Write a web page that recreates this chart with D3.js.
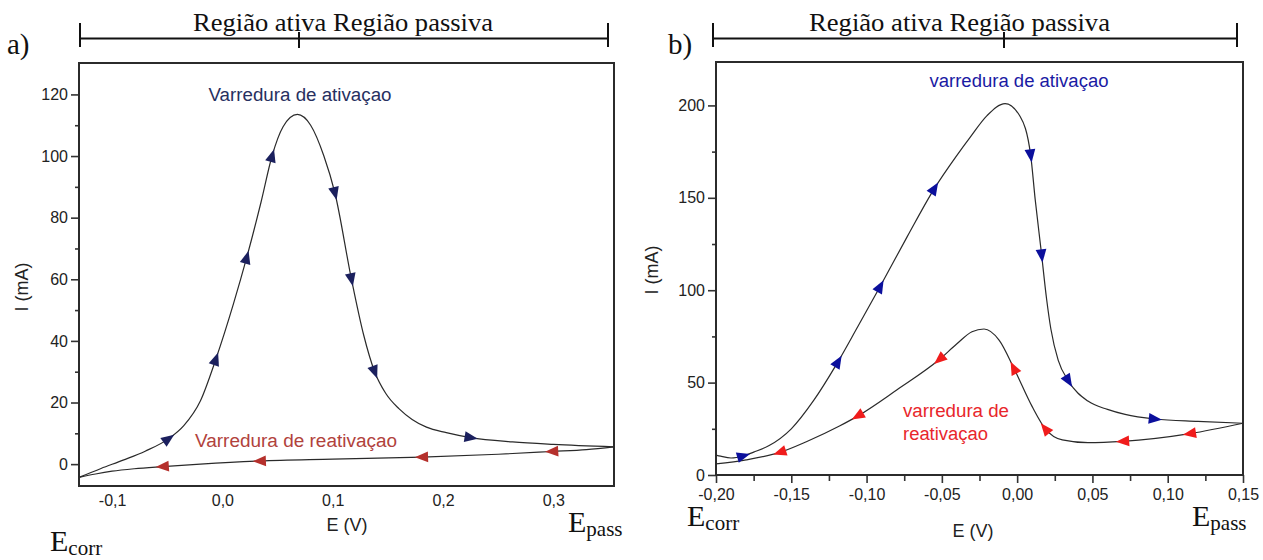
<!DOCTYPE html>
<html>
<head>
<meta charset="utf-8">
<script src="https://cdn.jsdelivr.net/npm/d3@7"></script>
<style>
body { margin: 0; background: #fff; }
svg { display: block; }
.sans { font-family: "Liberation Sans", Arial, sans-serif; }
.serif { font-family: "Liberation Serif", "Times New Roman", serif; }
</style>
</head>
<body>
<svg id="chart" width="1263" height="560"></svg>
<script>
// ---- panel a) data (E in V, I in mA) ----
const aForwardE = [-0.130, -0.110, -0.090, -0.070, -0.049, -0.035, -0.020, -0.006, 0.010, 0.022, 0.035, 0.045, 0.055, 0.068, 0.080, 0.092, 0.102, 0.117, 0.128, 0.138, 0.148, 0.160, 0.172, 0.185, 0.203, 0.225, 0.263, 0.300, 0.355];
const aForwardI = [-4.3, -1.4, 1.3, 4.2, 8.2, 12.5, 20.5, 34, 52, 67, 85, 100, 109.5, 113.5, 110, 100, 88, 60, 42, 30, 23, 18, 14.5, 12, 10.2, 8.6, 7.2, 6.4, 5.6];
const aReverseE = [-0.130, -0.115, -0.100, -0.080, -0.054, -0.020, 0.034, 0.100, 0.181, 0.250, 0.299, 0.330, 0.355];
const aReverseI = [-4.3, -3.2, -2.3, -1.5, -0.8, 0.0, 1.0, 1.6, 2.3, 3.2, 4.1, 4.7, 5.6];
const aForwardArrows = [-0.049, -0.006, 0.022, 0.045, 0.102, 0.117, 0.138, 0.225];
const aReverseArrows = [0.299, 0.181, 0.034, -0.054];
const aYTicks = [0, 20, 40, 60, 80, 100, 120];
const aYMinor = [10, 30, 50, 70, 90, 110];
const aXTicks = [-0.1, 0.0, 0.1, 0.2, 0.3];
const aXTickLabels = ["-0,1", "0,0", "0,1", "0,2", "0,3"];

// ---- panel b) data ----
const bForwardE = [-0.200, -0.197, -0.190, -0.182, -0.175, -0.165, -0.150, -0.135, -0.1199, -0.1057, -0.091, -0.073, -0.055, -0.040, -0.031, -0.020, -0.008, 0.002, 0.009, 0.012, 0.016, 0.0196, 0.0224, 0.0273, 0.034, 0.047, 0.060, 0.0717, 0.0914, 0.120, 0.150];
const bForwardI = [10.8, 10.2, 9.2, 10.3, 12.4, 15.8, 25, 40.5, 60, 80.5, 102, 129, 155, 173, 183, 194.5, 201, 194, 173, 149, 121, 95, 79, 62, 51, 40, 35.5, 32.8, 30.3, 29, 28];
const bReverseE = [-0.200, -0.180, -0.157, -0.140, -0.118, -0.1057, -0.080, -0.0515, -0.040, -0.030, -0.022, -0.012, -0.002, 0.010, 0.0187, 0.030, 0.047, 0.070, 0.1148, 0.150];
const bReverseI = [6.0, 8.2, 12.4, 18, 26.5, 32, 46, 62.6, 71, 77.5, 79, 73, 57.5, 37, 25, 19, 17.5, 18.2, 22.4, 28];
const bForwardArrows = [-0.182, -0.119, -0.091, -0.055, 0.009, 0.0163, 0.034, 0.0914];
const bReverseArrows = [0.1148, 0.0704, 0.0187, -0.0022, -0.0515, -0.1057, -0.1574];
const bYTicks = [0, 50, 100, 150, 200];
const bYMinor = [25, 75, 125, 175];
const bXTicks = [-0.20, -0.15, -0.10, -0.05, 0.00, 0.05, 0.10, 0.15];
const bXMinor = [-0.175, -0.125, -0.075, -0.025, 0.025, 0.075, 0.125];
const bXTickLabels = ["-0,20", "-0,15", "-0,10", "-0,05", "0,00", "0,05", "0,10", "0,15"];

const headerText = "Região ativa Região passiva";

const svg = d3.select("#chart");

function zip(es, is) { return es.map((e, i) => ({ E: e, I: is[i] })); }

// place a triangle on the drawn path at a given E, pointing along the sweep
function addArrows(g, pathNode, x, values, dir, color, size)
{
	const total = pathNode.getTotalLength();
	values.forEach(function(e)
	{
		const tx = x(e);
		let lo = 0, hi = total;
		for (let k = 0; k < 40; k++) {
			const mid = (lo + hi) / 2;
			if (pathNode.getPointAtLength(mid).x < tx) lo = mid; else hi = mid;
		}
		const l = (lo + hi) / 2;
		const p = pathNode.getPointAtLength(l);
		const p0 = pathNode.getPointAtLength(Math.max(0, l - 2));
		const p1 = pathNode.getPointAtLength(Math.min(total, l + 2));
		let ang = Math.atan2(p1.y - p0.y, p1.x - p0.x) * 180 / Math.PI;
		if (dir < 0) ang += 180;
		const s = size;
		g.append("path")
			.attr("d", "M" + (0.6 * s) + ",0L" + (-0.5 * s) + "," + (-0.45 * s) + "L" + (-0.5 * s) + "," + (0.45 * s) + "Z")
			.attr("fill", color)
			.attr("transform", "translate(" + p.x + "," + p.y + ") rotate(" + ang + ")");
	});
}

function drawPanel(cfg)
{
	const g = svg.append("g");
	const x = d3.scaleLinear().domain(cfg.xDomain).range([cfg.left, cfg.right]);
	const y = d3.scaleLinear().domain(cfg.yDomain).range([cfg.bottom, cfg.top]);

	// header bracket
	g.append("text").attr("class", "serif")
		.attr("x", cfg.headerX).attr("y", 31)
		.attr("font-size", 25).attr("fill", "#111")
		.attr("textLength", cfg.headerLen).attr("lengthAdjust", "spacingAndGlyphs")
		.text(headerText);
	g.append("line").attr("x1", cfg.brL).attr("x2", cfg.brR).attr("y1", 38.5).attr("y2", 38.5)
		.attr("stroke", "#111").attr("stroke-width", 2);
	[cfg.brL, cfg.brR].forEach(function(bx) {
		g.append("line").attr("x1", bx).attr("x2", bx).attr("y1", 23).attr("y2", 47)
			.attr("stroke", "#111").attr("stroke-width", 2);
	});
	g.append("line").attr("x1", cfg.brM).attr("x2", cfg.brM).attr("y1", 32).attr("y2", 48)
		.attr("stroke", "#111").attr("stroke-width", 2);
	g.append("text").attr("class", "serif")
		.attr("x", cfg.tagX).attr("y", 54)
		.attr("font-size", 29).attr("fill", "#111")
		.text(cfg.tag);

	// y axis
	const ya = g.append("g").attr("class", "sans")
		.attr("transform", "translate(" + cfg.left + ",0)")
		.call(d3.axisLeft(y).tickValues(cfg.yTicks).tickSize(8).tickPadding(3).tickFormat(d3.format("d")));
	ya.select(".domain").remove();
	ya.selectAll("line").attr("stroke", "#333").attr("stroke-width", 1.6);
	ya.selectAll("text").attr("font-size", 16).attr("fill", "#222").attr("font-family", null);
	const ym = g.append("g")
		.attr("transform", "translate(" + cfg.left + ",0)")
		.call(d3.axisLeft(y).tickValues(cfg.yMinor).tickSize(4).tickFormat(""));
	ym.select(".domain").remove();
	ym.selectAll("line").attr("stroke", "#333").attr("stroke-width", 1.6);

	// x axis
	const xa = g.append("g").attr("class", "sans")
		.attr("transform", "translate(0," + cfg.bottom + ")")
		.call(d3.axisBottom(x).tickValues(cfg.xTicks).tickSize(cfg.xTickSize).tickPadding(cfg.xPad)
			.tickFormat((d, i) => cfg.xLabels[i]));
	xa.select(".domain").remove();
	xa.selectAll("line").attr("stroke", "#333").attr("stroke-width", 1.6);
	xa.selectAll("text").attr("font-size", 16).attr("fill", "#222").attr("font-family", null);
	if (cfg.xMinor) {
		const xm = g.append("g")
			.attr("transform", "translate(0," + cfg.bottom + ")")
			.call(d3.axisBottom(x).tickValues(cfg.xMinor).tickSize(6).tickFormat(""));
		xm.select(".domain").remove();
		xm.selectAll("line").attr("stroke", "#333").attr("stroke-width", 1.6);
	}

	// frame
	g.append("rect")
		.attr("x", cfg.left).attr("y", cfg.top)
		.attr("width", cfg.right - cfg.left).attr("height", cfg.bottom - cfg.top)
		.attr("fill", "none").attr("stroke", "#2b2b2b").attr("stroke-width", 2);

	// axis titles
	g.append("text").attr("class", "sans")
		.attr("x", cfg.xTitleX).attr("y", cfg.xTitleY)
		.attr("text-anchor", "middle").attr("font-size", 18).attr("fill", "#222")
		.text("E (V)");
	g.append("text").attr("class", "sans")
		.attr("transform", "translate(" + cfg.yTitleX + "," + cfg.yTitleY + ") rotate(-90)")
		.attr("text-anchor", "middle").attr("dy", "0.35em").attr("font-size", 18).attr("fill", "#222")
		.text("I (mA)");

	// curves
	const line = d3.line().x(d => x(d.E)).y(d => y(d.I)).curve(d3.curveMonotoneX);
	const fwd = g.append("path").datum(cfg.forward)
		.attr("d", line).attr("fill", "none").attr("stroke", "#2a2a2a").attr("stroke-width", 1.2);
	const rev = g.append("path").datum(cfg.reverse)
		.attr("d", line).attr("fill", "none").attr("stroke", "#2a2a2a").attr("stroke-width", 1.2);
	addArrows(g, fwd.node(), x, cfg.forwardArrows, 1, cfg.fwdColor, 12);
	addArrows(g, rev.node(), x, cfg.reverseArrows, -1, cfg.revColor, 12);

	// E subscripts
	cfg.eLabels.forEach(function(l) {
		const t = g.append("text").attr("class", "serif")
			.attr("x", l.x).attr("y", l.y).attr("font-size", 30).attr("fill", "#111");
		t.append("tspan").text("E");
		t.append("tspan").attr("font-size", 21).attr("dy", 4).text(l.sub);
	});

	// sweep annotations
	cfg.notes.forEach(function(n) {
		g.append("text").attr("class", "sans")
			.attr("x", n.x).attr("y", n.y).attr("text-anchor", n.anchor)
			.attr("font-size", 18).attr("fill", n.color)
			.attr("textLength", n.len).attr("lengthAdjust", "spacingAndGlyphs")
			.text(n.text);
	});
}

drawPanel({
	tag: "a)", tagX: 7,
	headerX: 193, headerLen: 300, brL: 80, brR: 608, brM: 299,
	left: 79, right: 614, top: 63, bottom: 486,
	xDomain: [-0.13, 0.355], yDomain: [-7.1, 130.2],
	yTicks: aYTicks, yMinor: aYMinor,
	xTicks: aXTicks, xLabels: aXTickLabels, xTickSize: 0, xPad: 9, xMinor: null,
	xTitleX: 347, xTitleY: 531, yTitleX: 22, yTitleY: 287,
	forward: zip(aForwardE, aForwardI), reverse: zip(aReverseE, aReverseI),
	forwardArrows: aForwardArrows, reverseArrows: aReverseArrows,
	fwdColor: "#1b205e", revColor: "#b5302c",
	eLabels: [{ x: 50, y: 551, sub: "corr" }, { x: 568, y: 532, sub: "pass" }],
	notes: [
		{ text: "Varredura de ativaçao", x: 300, y: 101, anchor: "middle", color: "#27305f", len: 183 },
		{ text: "Varredura de reativaçao", x: 296, y: 447, anchor: "middle", color: "#b1423c", len: 202 }
	]
});

drawPanel({
	tag: "b)", tagX: 668,
	headerX: 809, headerLen: 301, brL: 713, brR: 1237, brM: 1004,
	left: 716, right: 1243, top: 62, bottom: 475,
	xDomain: [-0.2, 0.15], yDomain: [0, 223.5],
	yTicks: bYTicks, yMinor: bYMinor,
	xTicks: bXTicks, xLabels: bXTickLabels, xTickSize: 8, xPad: 6, xMinor: bXMinor,
	xTitleX: 973, xTitleY: 537, yTitleX: 652, yTitleY: 270,
	forward: zip(bForwardE, bForwardI), reverse: zip(bReverseE, bReverseI),
	forwardArrows: bForwardArrows, reverseArrows: bReverseArrows,
	fwdColor: "#0b0f9c", revColor: "#f01c1c",
	eLabels: [{ x: 687, y: 526, sub: "corr" }, { x: 1192, y: 526, sub: "pass" }],
	notes: [
		{ text: "varredura de ativaçao", x: 1019, y: 87, anchor: "middle", color: "#1a1aa3", len: 179 },
		{ text: "varredura de", x: 903, y: 417, anchor: "start", color: "#e8262b", len: 106 },
		{ text: "reativaçao", x: 903, y: 440, anchor: "start", color: "#e8262b", len: 85 }
	]
});
</script>
</body>
</html>
